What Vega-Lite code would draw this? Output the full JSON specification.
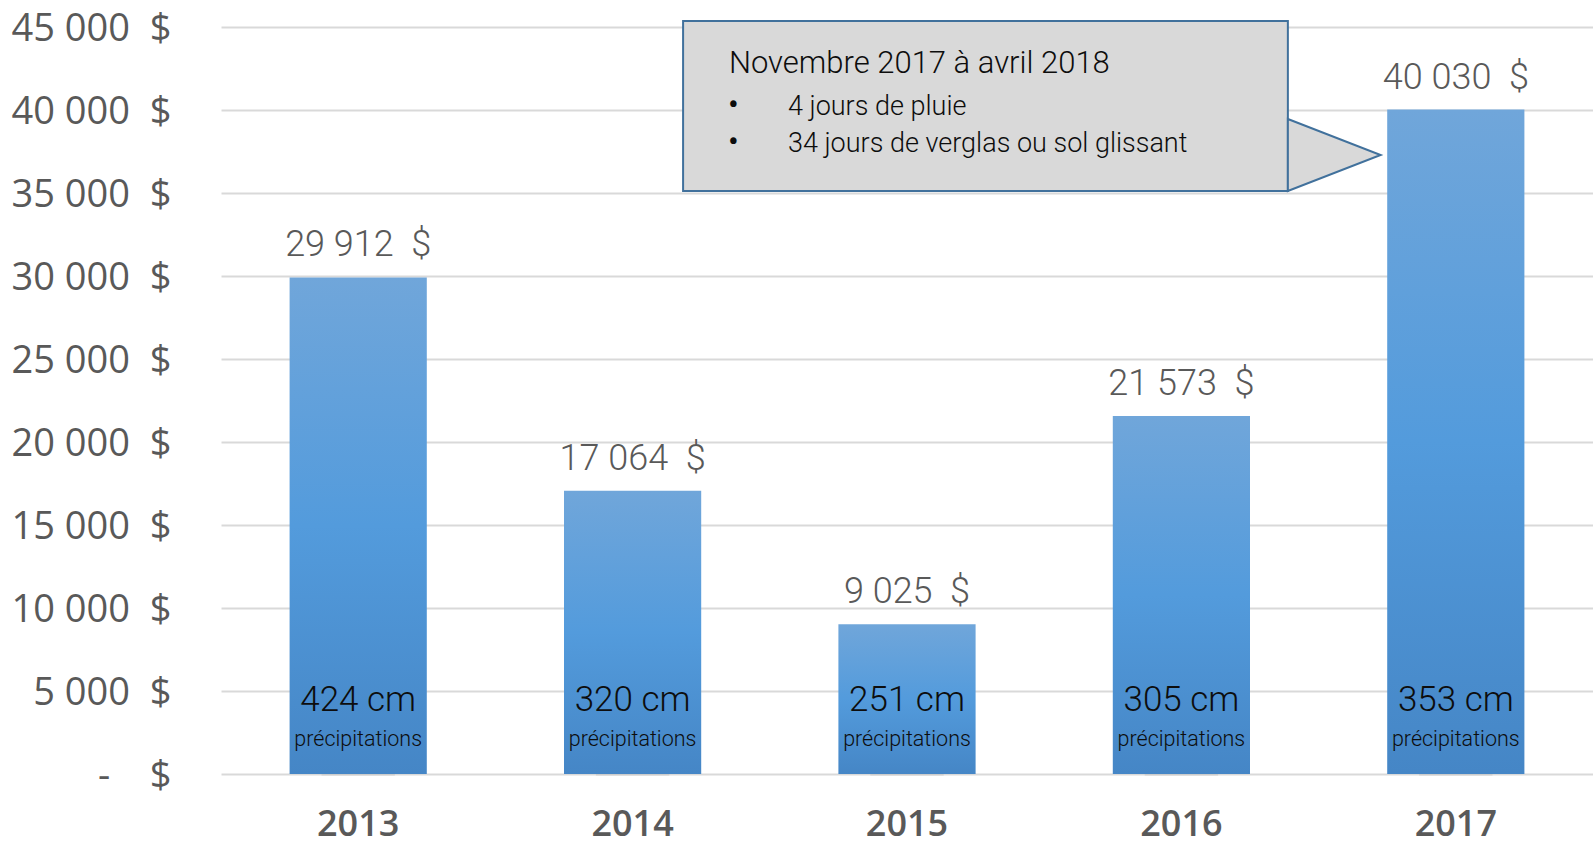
{
  "$schema": "https://vega.github.io/schema/vega-lite/v6.json",
  "width": 1372,
  "height": 747,
  "autosize": "none",
  "padding": {"left": 221, "top": 27, "right": 0, "bottom": 72},
  "background": "white",
  "config": {"view": {"stroke": null}},
  "datasets": {
    "couts": [
      {"annee": "2013", "cout": 29912, "precip": 424},
      {"annee": "2014", "cout": 17064, "precip": 320},
      {"annee": "2015", "cout": 9025, "precip": 251},
      {"annee": "2016", "cout": 21573, "precip": 305},
      {"annee": "2017", "cout": 40030, "precip": 353}
    ],
    "boite": [{"gx": 1.684, "dx": 3.888, "haut": 45361, "bas": 35120}],
    "pointe": [
      {"px": 3.888, "haut": 39458, "bas": 35120},
      {"px": 4.226, "haut": 37289, "bas": 37289}
    ],
    "titre": [{"tx": 1.851, "ty": 42229, "texte": "Novembre 2017 à avril 2018"}],
    "puces": [
      {"bx": 1.848, "tx": 2.066, "ty": 39699, "texte": "4 jours de pluie"},
      {"bx": 1.848, "tx": 2.066, "ty": 37470, "texte": "34 jours de verglas ou sol glissant"}
    ]
  },
  "resolve": {"scale": {"x": "independent"}},
  "layer": [
    {
      "data": {"name": "couts"},
      "transform": [
        {"calculate": "replace(format(datum.cout, ',.0f'), ',', ' ') + '\u00a0\u00a0$'", "as": "lbl"},
        {"calculate": "datum.precip + ' cm'", "as": "cm"}
      ],
      "encoding": {
        "x": {
          "field": "annee", "type": "nominal", "sort": null,
          "scale": {"paddingInner": 0.5, "paddingOuter": 0.25},
          "axis": {
            "title": null, "labelAngle": 0, "labelFont": "Open Sans", "labelFontWeight": 600,
            "labelFontSize": 36, "labelColor": "#595959", "labelPadding": 33,
            "ticks": false, "domain": false, "grid": false
          }
        }
      },
      "layer": [
        {
          "mark": {"type": "bar", "color": "#000000", "opacity": 0.06, "width": {"band": 0.535}, "yOffset": 2},
          "encoding": {
            "y": {
              "field": "cout", "type": "quantitative",
              "scale": {"domain": [0, 45000], "nice": false},
              "axis": {
                "title": null,
                "values": [0, 5000, 10000, 15000, 20000, 25000, 30000, 35000, 40000, 45000],
                "labelExpr": "datum.value == 0 ? '-\u00a0\u00a0\u00a0\u00a0$' : replace(format(datum.value, ',.0f'), ',', ' ') + '\u00a0\u00a0$'",
                "labelFont": "Open Sans", "labelFontSize": 38, "labelColor": "#595959",
                "labelPadding": 50, "labelBaseline": "middle", "labelOffset": 2,
                "ticks": false, "domain": false,
                "grid": true, "gridColor": "#d9d9d9", "gridWidth": 2
              }
            }
          }
        },
        {
          "mark": {
            "type": "bar",
            "color": {
              "gradient": "linear", "x1": 0, "y1": 0, "x2": 0, "y2": 1,
              "stops": [
                {"offset": 0, "color": "#70a6da"},
                {"offset": 0.5, "color": "#539bdc"},
                {"offset": 1, "color": "#4586c6"}
              ]
            }
          },
          "encoding": {
            "y": {"field": "cout", "type": "quantitative", "scale": {"domain": [0, 45000], "nice": false}, "axis": {"title": null}}
          }
        },
        {
          "mark": {"type": "text", "font": "Roboto", "fontWeight": 300, "fontSize": 36, "color": "#595959", "baseline": "alphabetic", "align": "center", "dy": -21},
          "encoding": {
            "y": {"field": "cout", "type": "quantitative", "scale": {"domain": [0, 45000], "nice": false}, "axis": {"title": null}},
            "text": {"field": "lbl"}
          }
        },
        {
          "mark": {"type": "text", "font": "Roboto", "fontWeight": 300, "fontSize": 35, "color": "#0d0d0d", "baseline": "alphabetic", "align": "center", "dy": -63},
          "encoding": {
            "y": {"datum": 0, "type": "quantitative", "scale": {"domain": [0, 45000], "nice": false}, "axis": {"title": null}},
            "text": {"field": "cm"}
          }
        },
        {
          "mark": {"type": "text", "font": "Roboto", "fontWeight": 300, "fontSize": 21.5, "color": "#0d0d0d", "baseline": "alphabetic", "align": "center", "dy": -28},
          "encoding": {
            "y": {"datum": 0, "type": "quantitative", "scale": {"domain": [0, 45000], "nice": false}, "axis": {"title": null}},
            "text": {"value": "précipitations"}
          }
        }
      ]
    },
    {
      "layer": [
        {
          "data": {"name": "boite"},
          "mark": {"type": "rect", "fill": "#d9d9d9", "stroke": "#41719c", "strokeWidth": 2},
          "encoding": {
            "x": {"field": "gx", "type": "quantitative", "scale": {"domain": [0, 5], "nice": false, "zero": false}, "axis": null},
            "x2": {"field": "dx"},
            "y": {"field": "haut", "type": "quantitative", "scale": {"domain": [0, 45000], "nice": false}, "axis": {"title": null}},
            "y2": {"field": "bas"}
          }
        },
        {
          "data": {"name": "pointe"},
          "mark": {"type": "area", "orient": "vertical", "fill": "#d9d9d9", "stroke": "#41719c", "strokeWidth": 2, "opacity": 1, "fillOpacity": 1},
          "encoding": {
            "x": {"field": "px", "type": "quantitative", "scale": {"domain": [0, 5], "nice": false, "zero": false}, "axis": null},
            "y": {"field": "haut", "type": "quantitative", "scale": {"domain": [0, 45000], "nice": false}, "axis": {"title": null}},
            "y2": {"field": "bas"}
          }
        },
        {
          "data": {"name": "titre"},
          "mark": {"type": "text", "font": "Roboto", "fontWeight": 300, "fontSize": 31, "color": "#0d0d0d", "align": "left", "baseline": "alphabetic"},
          "encoding": {
            "x": {"field": "tx", "type": "quantitative", "scale": {"domain": [0, 5], "nice": false, "zero": false}, "axis": null},
            "y": {"field": "ty", "type": "quantitative", "scale": {"domain": [0, 45000], "nice": false}, "axis": {"title": null}},
            "text": {"field": "texte"}
          }
        },
        {
          "data": {"name": "puces"},
          "mark": {"type": "text", "font": "Roboto", "fontSize": 32, "color": "#0d0d0d", "align": "left", "baseline": "alphabetic"},
          "encoding": {
            "x": {"field": "bx", "type": "quantitative", "scale": {"domain": [0, 5], "nice": false, "zero": false}, "axis": null},
            "y": {"field": "ty", "type": "quantitative", "scale": {"domain": [0, 45000], "nice": false}, "axis": {"title": null}},
            "text": {"value": "•"}
          }
        },
        {
          "data": {"name": "puces"},
          "mark": {"type": "text", "font": "Roboto", "fontWeight": 300, "fontSize": 27, "color": "#0d0d0d", "align": "left", "baseline": "alphabetic"},
          "encoding": {
            "x": {"field": "tx", "type": "quantitative", "scale": {"domain": [0, 5], "nice": false, "zero": false}, "axis": null},
            "y": {"field": "ty", "type": "quantitative", "scale": {"domain": [0, 45000], "nice": false}, "axis": {"title": null}},
            "text": {"field": "texte"}
          }
        }
      ]
    }
  ]
}
